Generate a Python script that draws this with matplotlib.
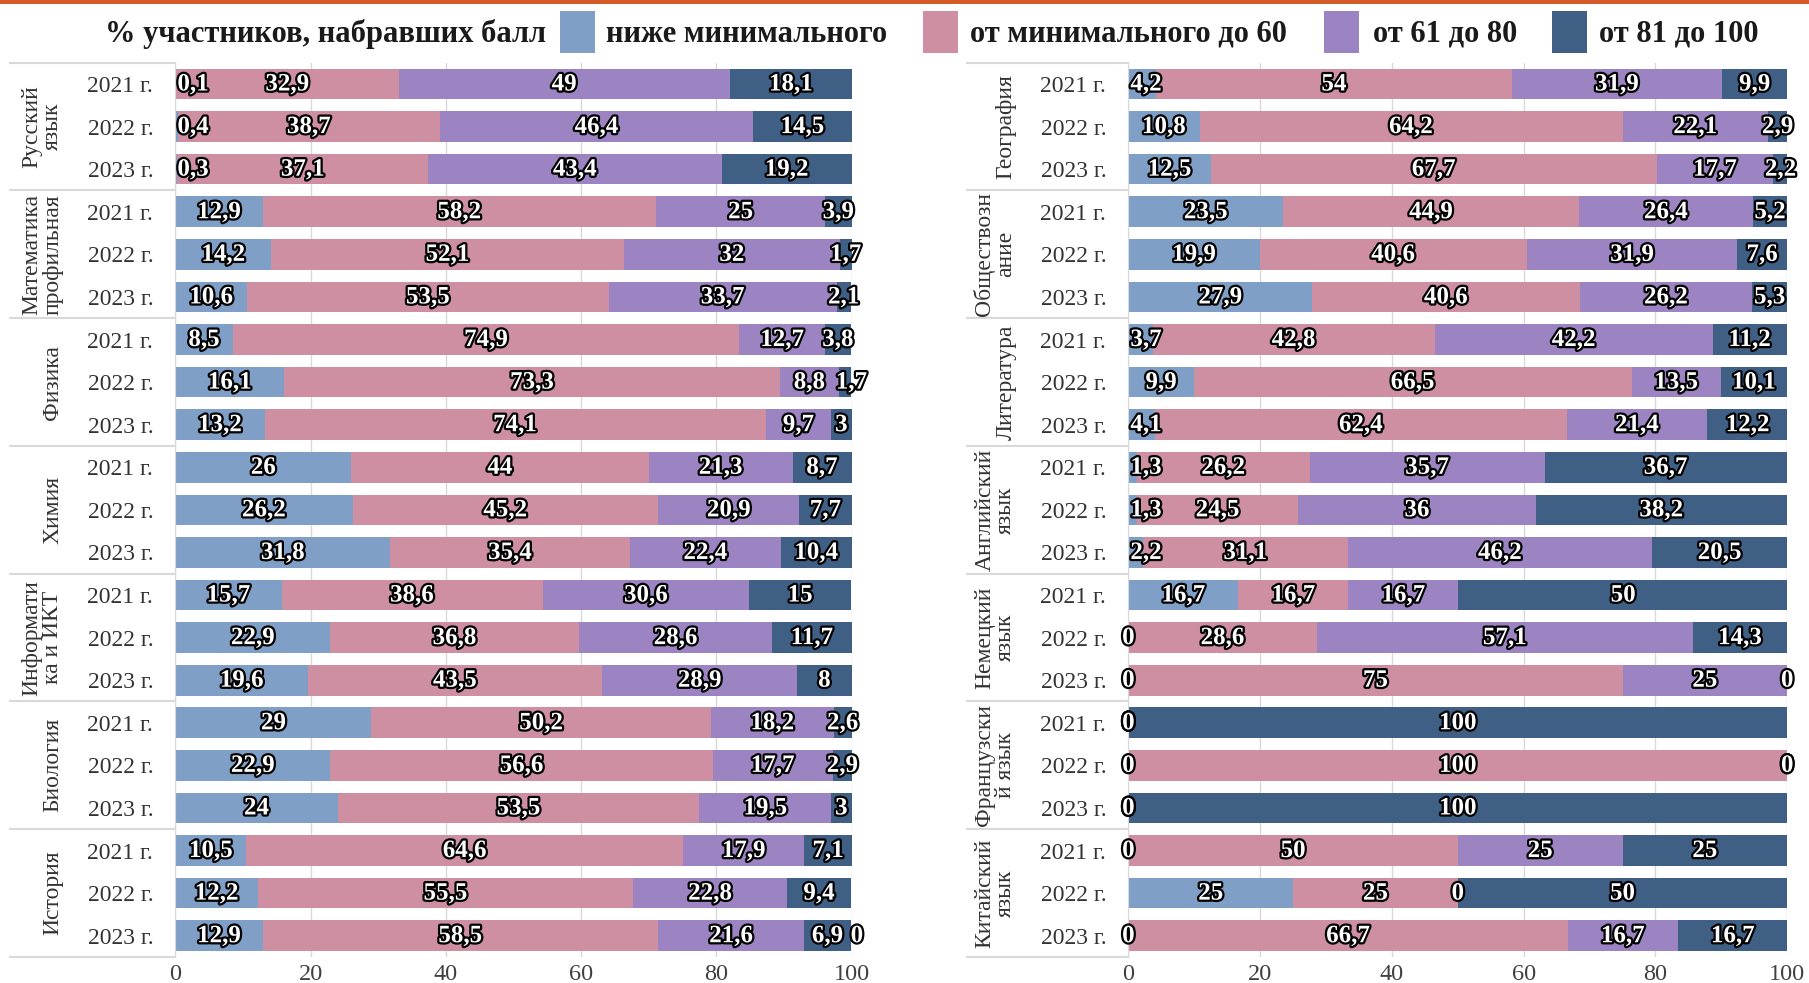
import matplotlib
matplotlib.use('Agg')
import matplotlib.pyplot as plt
import matplotlib.patheffects as pe
import matplotlib.transforms as mtransforms
from matplotlib.patches import Rectangle

plt.rcParams['font.family'] = ['Liberation Serif', 'DejaVu Serif']

years = ['2021 г.', '2022 г.', '2023 г.']
series_names = ['ниже минимального', 'от минимального до 60', 'от 61 до 80', 'от 81 до 100']
colors = ['#7f9fc6', '#cf8fa3', '#9c84c2', '#3f5f85']

left_subjects = ['Русский\nязык', 'Математика\nпрофильная', 'Физика', 'Химия',
                 'Информати\nка и ИКТ', 'Биология', 'История']
left_below = [0.1, 0.4, 0.3, 12.9, 14.2, 10.6, 8.5, 16.1, 13.2, 26, 26.2, 31.8,
              15.7, 22.9, 19.6, 29, 22.9, 24, 10.5, 12.2, 12.9]
left_mid = [32.9, 38.7, 37.1, 58.2, 52.1, 53.5, 74.9, 73.3, 74.1, 44, 45.2, 35.4,
            38.6, 36.8, 43.5, 50.2, 56.6, 53.5, 64.6, 55.5, 58.5]
left_good = [49, 46.4, 43.4, 25, 32, 33.7, 12.7, 8.8, 9.7, 21.3, 20.9, 22.4,
             30.6, 28.6, 28.9, 18.2, 17.7, 19.5, 17.9, 22.8, 21.6]
left_top = [18.1, 14.5, 19.2, 3.9, 1.7, 2.1, 3.8, 1.7, 3, 8.7, 7.7, 10.4,
            15, 11.7, 8, 2.6, 2.9, 3, 7.1, 9.4, 6.9]
# stray "0" label shown after the last segment (row index -> value)
left_extra = {20: 0}

right_subjects = ['География', 'Обществозн\nание', 'Литература', 'Английский\nязык',
                  'Немецкий\nязык', 'Французски\nй язык', 'Китайский\nязык']
right_below = [4.2, 10.8, 12.5, 23.5, 19.9, 27.9, 3.7, 9.9, 4.1, 1.3, 1.3, 2.2,
               16.7, 0, 0, 0, 0, 0, 0, 25, 0]
right_mid = [54, 64.2, 67.7, 44.9, 40.6, 40.6, 42.8, 66.5, 62.4, 26.2, 24.5, 31.1,
             16.7, 28.6, 75, 0, 100, 0, 50, 25, 66.7]
right_good = [31.9, 22.1, 17.7, 26.4, 31.9, 26.2, 42.2, 13.5, 21.4, 35.7, 36, 46.2,
              16.7, 57.1, 25, 0, 0, 0, 25, 0, 16.7]
right_top = [9.9, 2.9, 2.2, 5.2, 7.6, 5.3, 11.2, 10.1, 12.2, 36.7, 38.2, 20.5,
             50, 14.3, 0, 100, 0, 100, 25, 50, 16.7]
right_extra = {}

W, H = 1809, 983
fig = plt.figure(figsize=(W / 100, H / 100), dpi=100)

outline = [pe.withStroke(linewidth=3.2, foreground='black')]
label_color = '#333333'


def fmt(v):
    return '{0:g}'.format(v).replace('.', ',')


def draw_panel(rect, subjects, data, extra, line_x0):
    ax = fig.add_axes(rect)
    n = len(subjects) * len(years)
    rows = list(range(n))
    starts = [0.0] * n
    prev_right = [-10.0] * n
    for s, vals in enumerate(data):
        ax.barh(rows, vals, left=starts, height=0.72, color=colors[s], zorder=2)
        for r in rows:
            v = vals[r]
            txt = fmt(v)
            half = 0.95 * len(txt)
            x = starts[r] + v / 2
            ha = 'center'
            if v > 0:
                if x < 2.8:
                    ha, x = 'left', starts[r] + 0.3
                    prev_right[r] = x + 2 * half
                else:
                    # nudge a label right when it would run into the previous one
                    if x - half < prev_right[r] + 0.5:
                        x = prev_right[r] + 0.5 + half
                    prev_right[r] = x + half
            ax.text(x, r, txt, ha=ha, va='center', color='white', fontsize=18,
                    fontweight='bold', path_effects=outline, zorder=4)
        starts = [starts[r] + vals[r] for r in rows]
    for r, v in extra.items():
        ax.text(starts[r] + 0.9, r, fmt(v), ha='center', va='center', color='white',
                fontsize=18, fontweight='bold', path_effects=outline, zorder=4)

    ax.set_xlim(0, 100)
    ax.set_ylim(n - 0.5, -0.5)
    ax.set_xticks(range(0, 101, 20))
    ax.set_yticks(rows)
    ax.set_yticklabels(years * len(subjects))
    ax.tick_params(axis='y', length=0, pad=16, labelsize=17, labelcolor=label_color)
    ax.tick_params(axis='x', length=0, pad=5, labelsize=17.5, labelcolor='#404040')
    ax.grid(axis='x', color='#d9d9d9', lw=1, zorder=0)
    for side in ['top', 'right', 'bottom']:
        ax.spines[side].set_visible(False)
    ax.spines['left'].set_color('#d9d9d9')

    trans = mtransforms.blended_transform_factory(fig.transFigure, ax.transData)
    for g in range(len(subjects) + 1):
        y = 3 * g - 0.5
        ax.plot([line_x0 / W, rect[0]], [y, y], transform=trans, clip_on=False,
                color='#d9d9d9', lw=1.5)

    for g, name in enumerate(subjects):
        ax.annotate(name, xy=(0, 3 * g + 1), xycoords=('axes fraction', 'data'),
                    xytext=(-112, 0), textcoords='offset pixels', rotation=90,
                    ha='right', va='center', multialignment='center',
                    fontsize=17, color=label_color, linespacing=1.0)
    return ax


draw_panel([175.4 / W, 26 / H, 676.1 / W, 894.3 / H], left_subjects,
           [left_below, left_mid, left_good, left_top], left_extra, 10)
draw_panel([1128.4 / W, 26 / H, 658.8 / W, 894.3 / H], right_subjects,
           [right_below, right_mid, right_good, right_top], right_extra, 967)

# orange strip at top
fig.add_artist(Rectangle((0, 1 - 4 / H), 1, 4 / H, transform=fig.transFigure,
                         color='#d55a2a', lw=0))

# legend
ly = 1 - 34 / H
fig.text(105 / W, ly, '% участников, набравших балл', ha='left', va='center',
         fontsize=22, fontweight='bold', color='#1a1a1a')
box_x = [560, 923, 1324, 1552]
text_x = [606, 970, 1373, 1599]
for i in range(4):
    fig.add_artist(Rectangle((box_x[i] / W, 1 - 53 / H), 35 / W, 42 / H,
                             transform=fig.transFigure, color=colors[i], lw=0))
    fig.text(text_x[i] / W, ly, series_names[i], ha='left', va='center',
             fontsize=22, fontweight='bold', color='#1a1a1a')

fig.savefig('out.png', dpi=100)
